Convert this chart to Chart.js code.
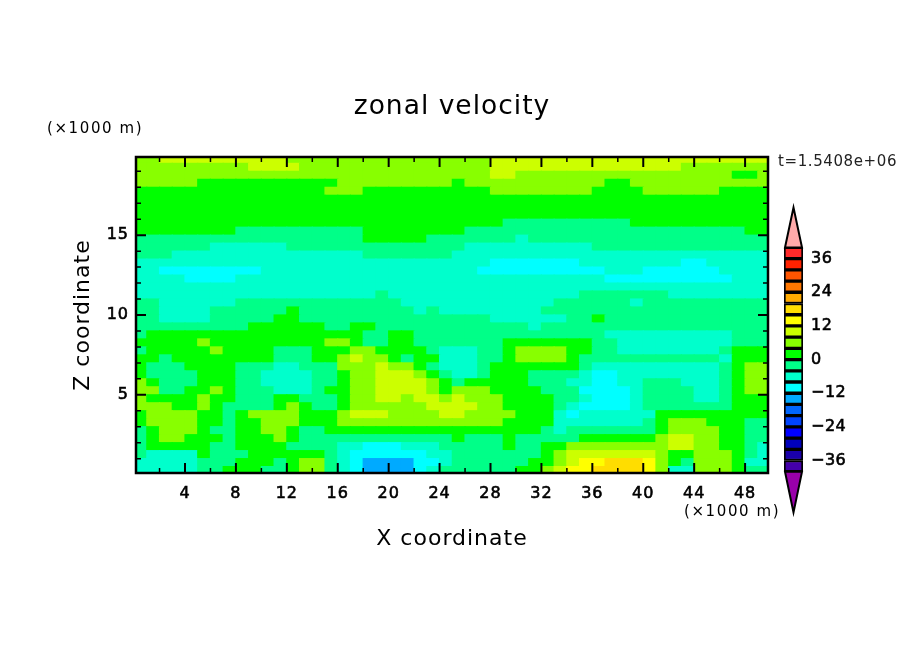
<!DOCTYPE html>
<html>
<head>
<meta charset="utf-8">
<title>zonal velocity</title>
<script src="https://cdn.jsdelivr.net/npm/chart.js@4/dist/chart.umd.js"></script>
<style>
  html, body { margin: 0; padding: 0; background: #fff; overflow: hidden; }
  canvas { position: absolute; }
  #field { left: 0; top: 0; }
  #bar { left: 770px; top: 190px; }
</style>
</head>
<body>
<canvas id="field" width="904" height="654"></canvas>
<canvas id="bar" width="134" height="340"></canvas>
<script>
// Zonal velocity (m/s), one array per height, 50 columns of 1 km
var z1975 = [6,6,10,10,10,10,10,10,10,10,10,10,6,6,6,6,6,6,6,6,6,6,6,6,6,6,6,6,10,10,10,10,10,10,10,10,10,10,10,10,10,10,10,10,10,10,10,10,10,10];
var z1925 = [6,6,6,6,6,6,6,6,6,10,10,10,10,6,6,6,6,6,6,6,6,6,6,6,6,6,6,6,10,10,10,10,10,10,10,10,10,10,10,10,10,10,10,6,6,6,6,6,6,6];
var z1875 = [6,6,6,6,6,6,6,6,6,6,6,6,6,6,6,6,6,6,6,6,6,6,6,6,6,6,6,6,10,10,6,6,6,6,6,6,6,6,6,6,6,6,6,6,6,6,6,2,2,6];
var z1825 = [6,6,6,6,6,2,2,2,2,2,2,2,2,2,2,2,6,6,6,6,6,6,6,6,6,2,6,6,6,6,6,6,6,6,6,6,6,2,2,6,6,6,6,6,6,6,6,6,6,6];
var z1775 = [2,2,2,2,2,2,2,2,2,2,2,2,2,2,2,6,6,6,2,2,2,2,2,2,2,2,2,2,6,6,6,6,6,6,6,6,2,2,2,2,6,6,6,6,6,6,2,2,2,2];
var z1725 = [2,2,2,2,2,2,2,2,2,2,2,2,2,2,2,2,2,2,2,2,2,2,2,2,2,2,2,2,2,2,2,2,2,2,2,2,2,2,2,2,2,2,2,2,2,2,2,2,2,2];
var z1675 = [2,2,2,2,2,2,2,2,2,2,2,2,2,2,2,2,2,2,2,2,2,2,2,2,2,2,2,2,2,2,2,2,2,2,2,2,2,2,2,2,2,2,2,2,2,2,2,2,2,2];
var z1625 = [2,2,2,2,2,2,2,2,2,2,2,2,2,2,2,2,2,2,2,2,2,2,2,2,2,2,2,2,2,2,2,2,2,2,2,2,2,2,2,2,2,2,2,2,2,2,2,2,2,2];
var z1575 = [2,2,2,2,2,2,2,2,2,2,2,2,2,2,2,2,2,2,2,2,2,2,2,2,2,2,2,2,2,-2,-2,-2,-2,-2,-2,-2,-2,-2,-2,2,2,2,2,2,2,2,2,2,2,2];
var z1525 = [2,2,2,2,2,2,2,2,-2,-2,-2,-2,-2,-2,-2,-2,-2,-2,2,2,2,2,2,2,2,2,-2,-2,-2,-2,-2,-2,-2,-2,-2,-2,-2,-2,-2,-2,-2,-2,-2,-2,-2,-2,-2,-2,2,2];
var z1475 = [-2,-2,-2,-2,-2,-2,-2,-2,-2,-2,-2,-2,-2,-2,-2,-2,-2,-2,2,2,2,2,2,-2,-2,-2,-2,-2,-2,-2,-6,-2,-2,-2,-2,-2,-2,-2,-2,-2,-2,-2,-2,-2,-2,-2,-2,-2,-2,-2];
var z1425 = [-2,-2,-2,-2,-2,-2,-6,-6,-6,-6,-6,-6,-2,-2,-2,-2,-2,-2,-2,-2,-2,-2,-2,-2,-2,-2,-6,-6,-6,-6,-6,-6,-6,-6,-6,-6,-2,-2,-2,-2,-2,-2,-2,-2,-2,-2,-2,-2,-2,-2];
var z1375 = [-2,-2,-2,-6,-6,-6,-6,-6,-6,-6,-6,-6,-6,-6,-6,-6,-6,-6,-2,-2,-2,-2,-2,-2,-2,-6,-6,-6,-6,-6,-6,-6,-6,-6,-6,-6,-6,-6,-6,-6,-6,-6,-6,-6,-6,-6,-6,-6,-6,-6];
var z1325 = [-6,-6,-6,-6,-6,-6,-6,-6,-6,-6,-6,-6,-6,-6,-6,-6,-6,-6,-6,-6,-6,-6,-6,-6,-6,-6,-6,-6,-10,-10,-10,-10,-10,-10,-10,-6,-6,-6,-6,-6,-6,-6,-6,-10,-10,-6,-6,-6,-6,-6];
var z1275 = [-6,-6,-10,-10,-10,-10,-10,-10,-10,-10,-6,-6,-6,-6,-6,-6,-6,-6,-6,-6,-6,-6,-6,-6,-6,-6,-6,-10,-10,-10,-10,-10,-10,-10,-10,-10,-10,-6,-6,-6,-10,-10,-10,-10,-10,-10,-6,-6,-6,-6];
var z1225 = [-6,-6,-6,-6,-10,-10,-10,-10,-6,-6,-6,-6,-6,-6,-6,-6,-6,-6,-6,-6,-6,-6,-6,-6,-6,-6,-6,-6,-6,-6,-6,-6,-6,-6,-6,-6,-6,-10,-10,-10,-10,-10,-10,-10,-10,-10,-10,-6,-6,-6];
var z1175 = [-6,-6,-6,-6,-6,-6,-6,-6,-6,-6,-6,-6,-6,-6,-6,-6,-6,-6,-6,-6,-6,-6,-6,-6,-6,-6,-6,-6,-6,-6,-6,-6,-6,-6,-6,-6,-6,-6,-6,-6,-6,-6,-6,-6,-6,-6,-6,-6,-6,-6];
var z1125 = [-6,-6,-6,-6,-6,-6,-6,-6,-6,-6,-6,-6,-6,-6,-6,-6,-6,-6,-6,-2,-6,-6,-6,-6,-6,-6,-6,-6,-6,-6,-6,-6,-6,-6,-6,-2,-2,-2,-2,-2,-2,-2,-6,-6,-6,-6,-6,-6,-6,-6];
var z1075 = [-2,-2,-6,-6,-6,-6,-6,-6,-2,-2,-2,-2,-2,-2,-2,-2,-2,-2,-2,-2,-2,-6,-6,-6,-6,-6,-6,-6,-6,-6,-6,-6,-6,-2,-2,-2,-2,-2,-2,-6,-2,-2,-2,-2,-2,-2,-2,-2,-2,-2];
var z1025 = [-2,-2,-6,-6,-6,-6,-2,-2,-2,-2,-2,-2,2,-2,-2,-2,-2,-2,-2,-2,-2,-2,-6,-2,-6,-6,-6,-6,-6,-6,-6,-6,-2,-2,-2,-2,-2,-2,-2,-2,-2,-2,-2,-2,-2,-2,-2,-2,-2,-2];
var z975 = [-2,-2,-6,-6,-6,-6,-2,-2,-2,-2,-2,2,2,-2,-2,-2,-2,-2,-2,-2,-2,-2,-2,-2,-2,-2,-2,-2,-6,-6,-6,-6,-6,-6,-2,-2,2,-2,-2,-2,-2,-2,-2,-2,-2,-2,-2,-2,-2,-2];
var z925 = [-2,-2,-2,-2,-2,-2,-2,-2,-2,2,2,2,2,2,2,-2,-2,2,2,-2,-2,-2,-2,-2,-2,-2,-2,-2,-2,-2,-2,-6,-2,-2,-2,-2,-2,-2,-2,-2,-2,-2,-2,-2,-2,-2,-2,-2,-2,-2];
var z875 = [-2,2,2,2,2,2,2,2,2,2,2,2,2,2,2,2,2,2,-2,-2,2,2,-2,-2,-2,-2,-2,-2,-2,-2,-2,-2,-2,-2,-2,-2,-2,-6,-6,-6,-6,-6,-6,-6,-6,-6,-6,-2,-2,-2];
var z825 = [2,2,2,2,2,6,2,2,2,2,2,2,2,2,2,6,6,2,-2,-2,2,2,-2,-2,-2,-2,-2,-2,-2,2,2,2,2,2,2,2,-2,-2,-6,-6,-6,-6,-6,-6,-6,-6,-6,-2,-2,-2];
var z775 = [-2,2,2,2,2,2,6,2,2,2,2,-2,-2,-2,2,2,2,6,6,2,2,2,2,-2,-6,-6,-6,-2,-2,2,6,6,6,6,2,2,-2,-2,-6,-6,-6,-6,-6,-6,-6,-6,-2,2,2,2];
var z725 = [2,2,-2,2,2,2,2,2,2,2,2,-2,-2,-2,2,2,6,10,6,6,2,-2,2,2,-6,-6,-6,-2,-2,2,6,6,6,6,2,-2,-2,-2,-2,-2,-2,-2,-2,-2,-2,-2,-6,2,2,2];
var z675 = [2,-2,-2,-2,2,2,2,2,-2,-2,-2,-6,-6,-2,-2,-2,6,6,6,10,6,6,2,-2,-6,-6,-6,-2,2,2,2,2,2,2,2,-2,-6,-6,-6,-6,-6,-6,-6,-6,-6,-6,-2,2,6,6];
var z625 = [2,-2,-2,-2,-2,2,2,2,-2,-2,-6,-6,-6,-6,-2,-2,2,6,6,10,10,10,6,2,-2,-6,-6,-2,2,2,2,-2,-2,-2,-2,-6,-10,-10,-6,-6,-6,-6,-6,-6,-6,-6,-2,2,6,6];
var z575 = [6,2,-2,-2,-2,2,2,2,-2,-2,-6,-6,-6,-6,-2,-2,2,6,6,10,10,10,10,6,2,-2,2,2,2,2,2,-2,-2,-2,-6,-6,-10,-10,-6,-6,-2,-2,-2,-6,-6,-6,-2,2,6,6];
var z525 = [6,6,-2,-2,2,2,6,2,-2,-2,-2,-6,-6,-6,-2,2,2,6,6,10,10,10,10,6,2,6,6,6,2,2,2,2,-2,-2,-2,-10,-10,-10,-10,-6,-2,-2,-2,-2,-6,-6,-2,2,6,6];
var z475 = [6,2,2,2,2,6,2,2,-2,-2,-2,2,2,-2,-2,-2,2,6,6,10,10,6,10,10,6,10,6,6,6,2,2,2,2,-2,-2,-6,-10,-10,-10,-6,-2,-2,-2,-2,-6,-6,-2,2,2,2];
var z425 = [6,6,6,2,2,6,2,-2,-2,-2,-2,2,6,2,-2,-2,2,6,6,6,6,6,6,10,10,10,10,6,6,2,2,2,2,-2,-6,-10,-10,-10,-10,-6,-2,-2,-2,-2,-2,-2,-2,2,2,2];
var z375 = [2,6,6,6,6,2,2,-2,2,6,6,6,6,2,2,2,6,10,10,10,6,6,6,6,10,10,6,6,6,6,2,2,2,-6,-10,-6,-6,-6,-6,-6,-6,2,2,2,2,2,2,2,2,2];
var z325 = [2,6,6,6,6,2,2,-2,2,2,6,6,6,2,2,2,6,6,6,6,6,6,6,6,6,6,6,6,6,2,2,2,2,-6,-6,-6,-6,-6,-6,-6,-2,2,6,6,6,2,2,2,-2,-2];
var z275 = [-2,2,6,6,6,2,-2,-2,2,2,6,6,2,-2,-2,2,2,2,2,2,2,2,2,2,2,2,2,2,2,2,2,2,-2,-6,-2,-2,-2,-2,-2,-2,-2,2,6,6,6,6,2,2,-2,-2];
var z225 = [-2,2,6,6,2,2,2,-2,2,2,2,6,2,-2,-2,-2,-2,-2,-2,-2,-2,-2,-2,-2,-2,2,-2,-2,-2,2,-2,-2,-2,-2,-2,2,2,2,2,2,2,6,10,10,6,6,2,2,-2,-2];
var z175 = [-2,2,2,2,2,2,-2,-2,2,2,2,2,-2,-2,-2,-2,-6,-6,-10,-10,-10,-6,-6,-6,-2,-2,-2,-2,-2,2,-2,-2,2,2,6,6,6,6,6,6,6,6,10,10,6,6,2,2,-2,-6];
var z125 = [-2,-6,-6,-6,-6,2,-2,-2,-2,2,2,2,2,2,2,-2,-6,-10,-10,-10,-10,-10,-10,-6,-6,-2,-2,-2,-2,-2,-2,-2,2,6,10,10,10,10,10,10,10,6,2,2,6,6,6,2,-2,-6];
var z75 = [-6,-6,-6,-6,-6,-2,-2,-2,2,2,2,-2,2,6,6,-2,-6,-10,-14,-14,-14,-14,-10,-10,-6,-2,-2,-2,-2,-2,-2,2,2,6,10,14,14,18,18,18,14,6,2,-2,6,6,6,2,-6,-6];
var z25 = [-6,-6,-6,-6,-6,-2,-2,2,2,2,-2,-2,2,6,6,-2,-6,-10,-14,-14,-14,-14,-10,-6,-2,-2,-2,-2,-2,-2,2,2,6,10,14,14,18,18,18,18,14,6,-6,-6,6,6,6,2,-2,-2];

// bottom row first, the bars are stacked upward from z = 0
var zRows = [z25,z75,z125,z175,z225,z275,z325,z375,z425,z475,z525,z575,z625,z675,z725,z775,z825,z875,z925,z975,
             z1025,z1075,z1125,z1175,z1225,z1275,z1325,z1375,z1425,z1475,z1525,z1575,z1625,z1675,z1725,z1775,z1825,z1875,z1925,z1975];
var rowDepth = 0.5;

var xTicks = [4,8,12,16,20,24,28,32,36,40,44,48];
var xMinorTicks = [2,6,10,14,18,22,26,30,34,38,42,46];
var zTicks = [5,10,15];
var zMinorTicks = [1,2,3,4,6,7,8,9,11,12,13,14,16,17,18,19];

// colour levels, every 4 m/s
var levelEdges = [-40,-36,-32,-28,-24,-20,-16,-12,-8,-4,0,4,8,12,16,20,24,28,32,36,40];
var levelColors = ["#4400aa","#1a00aa","#0000bb","#0000ff","#0044ff","#0066ff","#00aaff","#00ffff","#00ffcc","#00ff88",
                   "#00ff00","#88ff00","#ccff00","#ffff00","#ffdd00","#ffaa00","#ff7700","#ff5500","#ff2200","#ff2a2a"];
var barTicks = [36,24,12,0,-12,-24,-36];
var colorBelow = "#9900aa";
var colorAbove = "#ffaaaa";

var FONT = "'DejaVu Sans', sans-serif";
var tickFont = { family: FONT, size: 16, weight: "normal" };

function levelColor(v) {
    for (var i = 0; i < levelColors.length; i++) {
        if (v >= levelEdges[i] && v < levelEdges[i + 1]) return levelColors[i];
    }
    return v < 0 ? colorBelow : colorAbove;
}

var fieldData = {
    datasets: zRows.map(function(row) {
        return {
            stack: "field",
            data: row.map(function(u, i) { return { x: i + 0.5, y: rowDepth, u: u }; }),
            backgroundColor: row.map(levelColor),
            borderWidth: 0,
            inflateAmount: 0.6,
            barPercentage: 1,
            categoryPercentage: 1
        };
    })
};

// inward tick marks on all four sides, frame and the small notes
var framePlugin = {
    id: "frame",
    beforeDraw: function(chart) {
        chart.ctx.letterSpacing = "1px";
    },
    afterDatasetsDraw: function(chart) {
        var ctx = chart.ctx, a = chart.chartArea;
        var sx = chart.scales.x, sy = chart.scales.y;
        ctx.save();
        ctx.strokeStyle = "#000";
        function xMarks(list, len, w) {
            ctx.lineWidth = w;
            list.forEach(function(v) {
                var p = sx.getPixelForValue(v);
                ctx.beginPath();
                ctx.moveTo(p, a.bottom); ctx.lineTo(p, a.bottom - len);
                ctx.moveTo(p, a.top); ctx.lineTo(p, a.top + len);
                ctx.stroke();
            });
        }
        function zMarks(list, len, w) {
            ctx.lineWidth = w;
            list.forEach(function(v) {
                var p = sy.getPixelForValue(v);
                ctx.beginPath();
                ctx.moveTo(a.left, p); ctx.lineTo(a.left + len, p);
                ctx.moveTo(a.right, p); ctx.lineTo(a.right - len, p);
                ctx.stroke();
            });
        }
        xMarks(xTicks, 10, 2);
        xMarks(xMinorTicks, 5, 1.5);
        zMarks(zTicks, 10, 2);
        zMarks(zMinorTicks, 5, 1.5);
        ctx.lineWidth = 2.5;
        ctx.strokeRect(a.left, a.top, a.right - a.left, a.bottom - a.top);
        ctx.restore();
    },
    afterDraw: function(chart) {
        var ctx = chart.ctx;
        ctx.save();
        ctx.fillStyle = "#000";
        ctx.textBaseline = "middle";
        ctx.textAlign = "left";
        ctx.letterSpacing = "1.6px";
        ctx.font = "15px " + FONT;
        ctx.fillText("(\u00d71000 m)", 47, 129);
        ctx.fillText("(\u00d71000 m)", 684, 512);
        ctx.letterSpacing = "0.6px";
        ctx.fillStyle = "#222";
        ctx.font = "15px " + FONT;
        ctx.fillText("t=1.5408e+06", 778, 162);
        ctx.restore();
    }
};

new Chart(document.getElementById("field"), {
    type: "bar",
    data: fieldData,
    plugins: [framePlugin],
    options: {
        responsive: false,
        devicePixelRatio: 1,
        animation: false,
        layout: { padding: 0, autoPadding: false },
        plugins: {
            legend: { display: false },
            tooltip: { enabled: false },
            title: {
                display: true,
                text: "zonal velocity",
                color: "#000",
                font: { family: FONT, size: 26.5, weight: "normal" },
                padding: { top: 91, bottom: 34.2 }
            }
        },
        scales: {
            x: {
                type: "linear",
                stacked: true,
                offset: false,
                min: 0.15,
                max: 49.8,
                grid: { display: false, drawTicks: false, offset: false },
                border: { display: false },
                afterBuildTicks: function(scale) {
                    scale.ticks = xTicks.map(function(v) { return { value: v }; });
                },
                afterFit: function(scale) { scale.width = scale.width; scale.height = 181; },
                ticks: { color: "#000", padding: 11, maxRotation: 0, autoSkip: false, font: tickFont, textStrokeWidth: 0.6, textStrokeColor: "#000" },
                title: {
                    display: true,
                    text: "X coordinate",
                    color: "#000",
                    font: { family: FONT, size: 22, weight: "normal" },
                    padding: { top: 0, bottom: 102 }
                }
            },
            y: {
                type: "linear",
                stacked: true,
                min: 0.1,
                max: 19.9,
                grid: { display: false, drawTicks: false },
                border: { display: false },
                afterBuildTicks: function(scale) {
                    scale.ticks = zTicks.map(function(v) { return { value: v }; });
                },
                afterFit: function(scale) { scale.width = 136; },
                ticks: { color: "#000", padding: 7, autoSkip: false, font: tickFont, textStrokeWidth: 0.6, textStrokeColor: "#000" },
                title: {
                    display: true,
                    text: "Z coordinate",
                    color: "#000",
                    font: { family: FONT, size: 22, weight: "normal" },
                    padding: { top: 70, bottom: 0 }
                }
            },
            // empty right margin, holds the colour bar
            yEdge: {
                position: "right",
                grid: { display: false, drawTicks: false },
                border: { display: false },
                ticks: { display: false },
                afterFit: function(scale) { scale.width = 136; }
            }
        }
    }
});

// colour bar with its two end triangles
var endsPlugin = {
    id: "ends",
    beforeDraw: function(chart) {
        chart.ctx.letterSpacing = "0.5px";
    },
    afterDatasetsDraw: function(chart) {
        var ctx = chart.ctx, a = chart.chartArea, sy = chart.scales.y;
        var mid = (a.left + a.right) / 2;
        function end(edge, tip, color) {
            ctx.beginPath();
            ctx.moveTo(a.left + 1, sy.getPixelForValue(edge));
            ctx.lineTo(mid, sy.getPixelForValue(tip));
            ctx.lineTo(a.right - 1, sy.getPixelForValue(edge));
            ctx.closePath();
            ctx.fillStyle = color;
            ctx.fill();
            ctx.lineWidth = 2;
            ctx.strokeStyle = "#000";
            ctx.stroke();
        }
        ctx.save();
        end(levelEdges[levelEdges.length - 1], sy.max, colorAbove);
        end(levelEdges[0], sy.min, colorBelow);
        ctx.restore();
    }
};

new Chart(document.getElementById("bar"), {
    type: "bar",
    data: {
        labels: ["u"],
        datasets: levelColors.map(function(c, i) {
            return {
                data: [[levelEdges[i], levelEdges[i + 1]]],
                backgroundColor: c,
                borderColor: "#000",
                borderWidth: 2,
                borderSkipped: false,
                grouped: false,
                barPercentage: 1,
                categoryPercentage: 1
            };
        })
    },
    plugins: [endsPlugin],
    options: {
        responsive: false,
        devicePixelRatio: 1,
        animation: false,
        layout: { padding: { left: 14, right: 0, top: 17, bottom: 16 }, autoPadding: false },
        plugins: { legend: { display: false }, tooltip: { enabled: false } },
        scales: {
            x: { display: false },
            y: {
                position: "right",
                min: -54.5,
                max: 54.2,
                grid: { display: false, drawTicks: false },
                border: { display: false },
                afterBuildTicks: function(scale) {
                    scale.ticks = barTicks.map(function(v) { return { value: v }; });
                },
                afterFit: function(scale) { scale.width = 101; },
                ticks: {
                    color: "#000",
                    padding: 8,
                    autoSkip: false,
                    font: tickFont,
                    textStrokeWidth: 0.6,
                    textStrokeColor: "#000",
                    callback: function(v) { return v < 0 ? "\u2212" + Math.abs(v) : String(v); }
                }
            }
        }
    }
});
</script>
</body>
</html>
